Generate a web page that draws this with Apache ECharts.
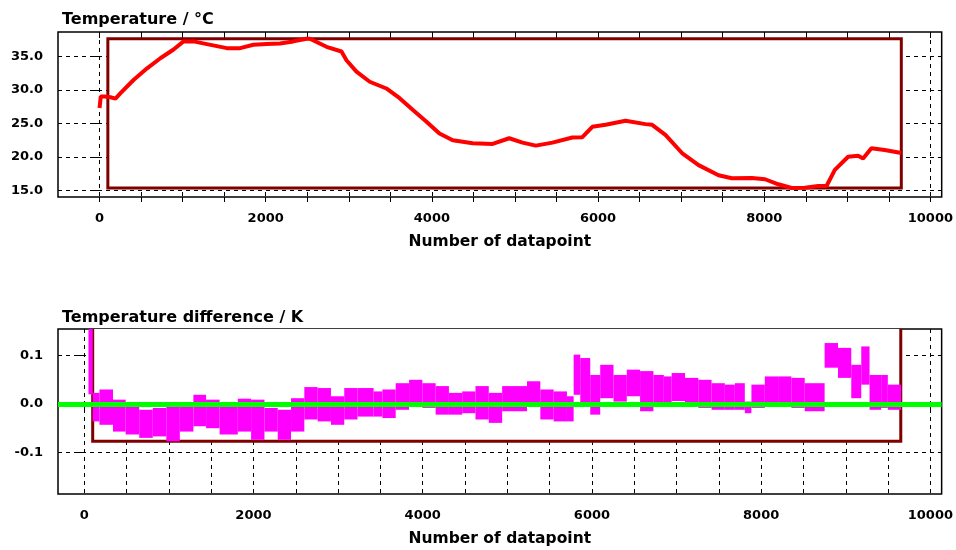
<!DOCTYPE html>
<html>
<head>
<meta charset="utf-8">
<script src="https://cdn.jsdelivr.net/npm/echarts@6/dist/echarts.min.js"></script>
<style>html,body{margin:0;padding:0;background:#fff}#main{width:956px;height:550px}</style>
</head>
<body>
<div id="main"></div>
<script>
var chart = echarts.init(document.getElementById('main'));

// temperature trace: datapoint number and value in °C
var tempX = [0, 15, 60, 132, 192, 252, 412, 572, 732, 891,
    1011, 1131, 1292, 1532, 1692, 1852, 2012, 2172, 2332, 2492,
    2532, 2732, 2912, 2972, 3092, 3252, 3452, 3612, 3772, 3932,
    4091, 4251, 4491, 4731, 4931, 5091, 5251, 5451, 5691, 5811,
    5931, 6091, 6331, 6571, 6651, 6811, 7010, 7210, 7450, 7610,
    7850, 8010, 8170, 8330, 8490, 8650, 8750, 8850, 9010, 9130,
    9190, 9290, 9450, 9650];
var temp = [27.3, 29.0, 29.0, 28.9, 28.7, 29.5, 31.5, 33.2, 34.7, 36.0,
    37.2, 37.2, 36.8, 36.2, 36.2, 36.7, 36.8, 36.9, 37.2, 37.6,
    37.6, 36.4, 35.7, 34.4, 32.7, 31.2, 30.2, 28.75, 27.0, 25.3,
    23.5, 22.5, 22.05, 21.95, 22.8, 22.15, 21.7, 22.15, 22.9, 22.95,
    24.5, 24.8, 25.4, 24.9, 24.8, 23.3, 20.6, 18.8, 17.3, 16.85,
    16.9, 16.7, 15.95, 15.4, 15.45, 15.7, 15.7, 18.1, 20.05, 20.2,
    19.8, 21.3, 21.05, 20.6];

// temperature difference: segment edges (datapoint) and high/low envelope in K
var diffX = [50, 100, 180, 340, 490, 650, 810, 970, 1130, 1290,
    1440, 1600, 1815, 1972, 2130, 2287, 2444, 2601, 2759, 2916,
    3073, 3230, 3420, 3524, 3681, 3839, 3996, 4153, 4310, 4467,
    4624, 4781, 4939, 5233, 5390, 5548, 5705, 5784, 5862, 5980,
    6098, 6255, 6412, 6569, 6727, 6850, 6942, 7100, 7257, 7414,
    7571, 7689, 7807, 7885, 8043, 8200, 8357, 8515, 8750, 8908,
    9065, 9183, 9281, 9418, 9497, 9654];
var diffHi = [0.20, 0.023, 0.03, 0.009, 0.004, -0.012, -0.008, -0.005, -0.001, 0.019,
    0.009, -0.001, 0.011, 0.009, -0.008, -0.012, 0.012, 0.035, 0.033, 0.016,
    0.033, 0.033, 0.026, 0.03, 0.043, 0.05, 0.043, 0.037, 0.023, 0.026,
    0.037, 0.023, 0.037, 0.047, 0.03, 0.026, 0.016, 0.102, 0.095, 0.06,
    0.081, 0.06, 0.071, 0.068, 0.06, 0.057, 0.064, 0.054, 0.05, 0.043,
    0.04, 0.043, 0.005, 0.04, 0.057, 0.057, 0.054, 0.043, 0.126, 0.116,
    0.081, 0.119, 0.06, 0.06, 0.04];
var diffLo = [0.02, -0.036, -0.043, -0.057, -0.063, -0.07, -0.067, -0.077, -0.057, -0.046,
    -0.05, -0.063, -0.057, -0.074, -0.057, -0.074, -0.057, -0.032, -0.036, -0.043,
    -0.032, -0.026, -0.026, -0.029, -0.012, -0.001, -0.008, -0.022, -0.022, -0.019,
    -0.032, -0.039, -0.015, -0.005, -0.032, -0.036, -0.036, 0.019, 0.0, -0.022,
    0.012, 0.005, 0.016, -0.015, -0.001, -0.005, 0.006, -0.005, -0.008, -0.012,
    -0.012, -0.012, -0.019, -0.008, -0.001, -0.001, -0.008, -0.015, 0.075, 0.054,
    0.012, 0.04, -0.012, -0.008, -0.012];

// tick values
var xTicks = [0, 500, 1000, 1500, 2000, 2500, 3000, 3500, 4000, 4500, 5000,
    5500, 6000, 6500, 7000, 7500, 8000, 8500, 9000, 9500, 10000];
var xLabels = [0, 2000, 4000, 6000, 8000, 10000];
var tempTicks = [15, 20, 25, 30, 35];
var diffTicks = [-0.1, 0.0, 0.1];

// x range of the data box
var boxX = [100, 9650];

var tempData = tempX.map(function (x, i) { return [x, temp[i]]; });
var bandData = diffHi.map(function (h, i) { return [diffX[i], diffX[i + 1], diffLo[i], h]; });
var tempBox = [[boxX[0], boxX[1], Math.min.apply(null, temp), Math.max.apply(null, temp)]];
var diffBox = [[boxX[0], boxX[1], Math.min.apply(null, diffLo), Math.max.apply(null, diffHi)]];

var font = 'DejaVu Sans';
var txt = {color: '#000', fontFamily: font, fontWeight: 'bold', fontSize: 13};
var nameTxt = {color: '#000', fontFamily: font, fontWeight: 'bold', fontSize: 15.5};
var titleTxt = {color: '#000', fontFamily: font, fontWeight: 'bold', fontSize: 16};
var dash = {color: '#000', width: 1, type: [4, 4]};

function rectItem(style) {
    return function (params, api) {
        var a = api.coord([api.value(0), api.value(3)]);
        var b = api.coord([api.value(1), api.value(2)]);
        return {
            type: 'rect',
            shape: {x: a[0], y: a[1], width: b[0] - a[0], height: b[1] - a[1]},
            style: style
        };
    };
}

function xAxisFor(gi, min, max) {
    return {
        type: 'value', gridIndex: gi, min: min, max: max,
        axisLine: {show: false},
        axisTick: {show: true, length: 5, customValues: xTicks, lineStyle: {color: '#000'}},
        axisLabel: Object.assign({margin: 15, customValues: xLabels,
            formatter: function (v) { return String(v); }}, txt),
        splitLine: {show: true, lineStyle: dash},
        name: 'Number of datapoint', nameLocation: 'middle', nameGap: 37,
        nameTextStyle: nameTxt
    };
}

function yAxisFor(gi, min, max, ticks) {
    return {
        type: 'value', gridIndex: gi, min: min, max: max,
        axisLine: {show: false},
        axisTick: {show: true, length: 8, customValues: ticks, lineStyle: {color: '#000'}},
        axisLabel: Object.assign({margin: 15, customValues: ticks,
            formatter: function (v) { return v.toFixed(1); }}, txt),
        splitLine: {show: true, lineStyle: dash}
    };
}

function boxSeries(xi, yi, data) {
    return {
        type: 'custom', xAxisIndex: xi, yAxisIndex: yi, data: data, clip: true,
        encode: {x: [0, 1], y: [2, 3]}, silent: true, z: 1,
        renderItem: rectItem({fill: '#fff', stroke: '#800000', lineWidth: 3})
    };
}

var option = {
    backgroundColor: '#fff',
    animation: false,
    title: [
        {text: 'Temperature / °C', left: 57, top: 7, textStyle: titleTxt},
        {text: 'Temperature difference / K', left: 57, top: 305, textStyle: titleTxt}
    ],
    grid: [
        {left: 58, top: 32, width: 886, height: 165, show: true, borderColor: '#000', borderWidth: 1.5, backgroundColor: 'transparent'},
        {left: 58, top: 329, width: 886, height: 165, show: true, borderColor: '#000', borderWidth: 1.5, backgroundColor: 'transparent'}
    ],
    xAxis: [
        xAxisFor(0, -500, 10136),
        {
            type: 'value', gridIndex: 0, position: 'top', min: -500, max: 10136,
            axisLine: {show: false},
            axisTick: {show: true, inside: true, length: 6, customValues: xTicks, lineStyle: {color: '#000'}},
            axisLabel: {show: false}, splitLine: {show: false}
        },
        xAxisFor(1, -310, 10133)
    ],
    yAxis: [
        yAxisFor(0, 14.06, 38.6, tempTicks),
        yAxisFor(1, -0.186, 0.155, diffTicks)
    ],
    series: [
        boxSeries(0, 0, tempBox),
        {
            type: 'line', xAxisIndex: 0, yAxisIndex: 0, data: tempData,
            symbol: 'none', lineStyle: {color: '#0000ff', width: 2}, z: 2
        },
        {
            type: 'line', xAxisIndex: 0, yAxisIndex: 0, data: tempData,
            symbol: 'none', lineStyle: {color: '#ff0000', width: 4}, z: 3
        },
        boxSeries(2, 1, diffBox),
        {
            type: 'custom', xAxisIndex: 2, yAxisIndex: 1, data: bandData, clip: true,
            encode: {x: [0, 1], y: [2, 3]}, z: 3,
            renderItem: rectItem({fill: '#ff00ff'}),
            markLine: {
                silent: true, symbol: ['none', 'none'],
                label: {show: false},
                lineStyle: {color: '#00ff00', width: 5, type: 'solid'},
                data: [{yAxis: 0}]
            }
        }
    ]
};

option && chart.setOption(option);
</script>
</body>
</html>
